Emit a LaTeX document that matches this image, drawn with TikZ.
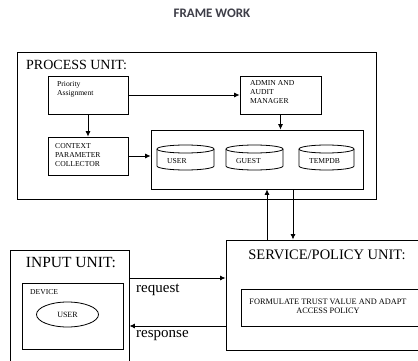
\documentclass[tikz,border=0pt]{standalone}
\usepackage{fontspec}
\setmainfont{Liberation Serif}
\newfontfamily\titlefont{Carlito}
\usetikzlibrary{arrows.meta,calc,shapes.geometric}
\definecolor{titlegray}{RGB}{62,62,72}
\begin{document}
\begin{tikzpicture}[x=1pt,y=1pt,
  outer/.style={draw=black,line width=0.9pt},
  arr/.style={line width=0.8pt,-{Latex[length=5.5pt,width=5pt]}},
  big/.style={font=\fontsize{14}{16}\selectfont,inner sep=0pt},
  tiny/.style={font=\fontsize{7.6}{9}\selectfont,inner sep=0pt,align=left},
  cyl/.style={draw=black,line width=0.8pt}]
\clip (0,0) rectangle (418,360);
\useasboundingbox (0,0) rectangle (418,360);
\fill[white] (0,0) rectangle (418,360);

% title
\node[font=\titlefont\bfseries\fontsize{13}{15}\selectfont,text=titlegray] (title) at (212,347) {FRAME WORK};

% process unit
\draw[outer] (17.5,308) rectangle (376,161);
\node[big,anchor=west] (plabel) at (26,295) {PROCESS UNIT:};

\node[draw,line width=0.8pt,minimum width=80pt,minimum height=38pt,inner sep=0pt] (prio) at (88,265) {};
\node[tiny,anchor=west] (priot) at (57,270.5) {Priority\\Assignment};

\node[draw,line width=0.8pt,minimum width=81pt,minimum height=38pt,inner sep=0pt] (admin) at (280.5,265) {};
\node[tiny,anchor=west] (admint) at (250,268) {ADMIN AND\\AUDIT\\MANAGER};

\node[draw,line width=0.8pt,minimum width=80pt,minimum height=38pt,inner sep=0pt] (context) at (88,204) {};
\node[tiny,anchor=west] (contextt) at (55,205) {CONTEXT\\PARAMETER\\COLLECTOR};

\node[draw,line width=0.8pt,minimum width=212pt,minimum height=59pt,inner sep=0pt] (db) at (257,200.5) {};

% cylinders
\foreach \cx/\rx/\lab/\nm in {185.5/28.5/USER/cu,254.5/28.5/GUEST/cg,326.5/27.5/TEMPDB/ct}{
  \draw[cyl] (\cx,211) ellipse [x radius=\rx, y radius=4];
  \draw[cyl] (\cx-\rx,211) -- (\cx-\rx,194) arc[start angle=180,end angle=360,x radius=\rx,y radius=4] -- (\cx+\rx,211);
  \node[tiny,anchor=west] (\nm) at (\cx-\rx+10,198.5) {\lab};
}

% arrows in process unit
\draw[arr] (prio.east) -- (admin.west);
\draw[arr] (prio.south) -- (context.north);
\draw[arr] (admin.south) -- (admin.south |- db.north);
\draw[arr] (context.east) -- (context.east -| db.west);

% service/policy unit
\node[draw,line width=0.9pt,minimum width=204pt,minimum height=110pt,inner sep=0pt] (svc) at (328,65) {};
\node[big,font=\fontsize{14.5}{16}\selectfont] (svct) at (327,105) {SERVICE/POLICY UNIT:};
\node[draw,line width=0.8pt,minimum width=189pt,minimum height=37pt,inner sep=0pt] (form) at (335.5,52.5) {};
\node[font=\fontsize{8.3}{9}\selectfont,inner sep=0pt,align=center] (formt) at (328,53.5) {FORMULATE TRUST VALUE AND ADAPT\\ACCESS POLICY};

% db <-> service
\draw[arr] (svc.north -| 267,0) -- (db.south -| 267,0);
\draw[arr] (db.south -| 293,0) -- (svc.north -| 293,0);

% input unit
\node[draw,line width=0.9pt,minimum width=119pt,minimum height=120pt,inner sep=0pt] (input) at (69.5,50) {};
\node[big,font=\fontsize{15.5}{17}\selectfont] (inputt) at (71,97) {INPUT UNIT:};
\node[draw,line width=0.8pt,minimum width=101pt,minimum height=66pt,inner sep=0pt] (device) at (72.5,44) {};
\node[tiny,anchor=west] (devicet) at (30,68) {DEVICE};
\node[draw,line width=0.8pt,ellipse,minimum width=62pt,minimum height=25pt,inner sep=0pt,font=\fontsize{8}{9}\selectfont] (user) at (67.5,45.5) {USER};

% request / response
\draw[arr] (input.east |- 0,82) -- (svc.west |- 0,82);
\node[big,font=\fontsize{15}{17}\selectfont,anchor=west] (req) at (136,70) {request};
\draw[arr] (svc.west |- 0,34) -- (input.east |- 0,34);
\node[big,font=\fontsize{15}{17}\selectfont,anchor=west] (resp) at (136,24) {response};
\end{tikzpicture}
\end{document}
